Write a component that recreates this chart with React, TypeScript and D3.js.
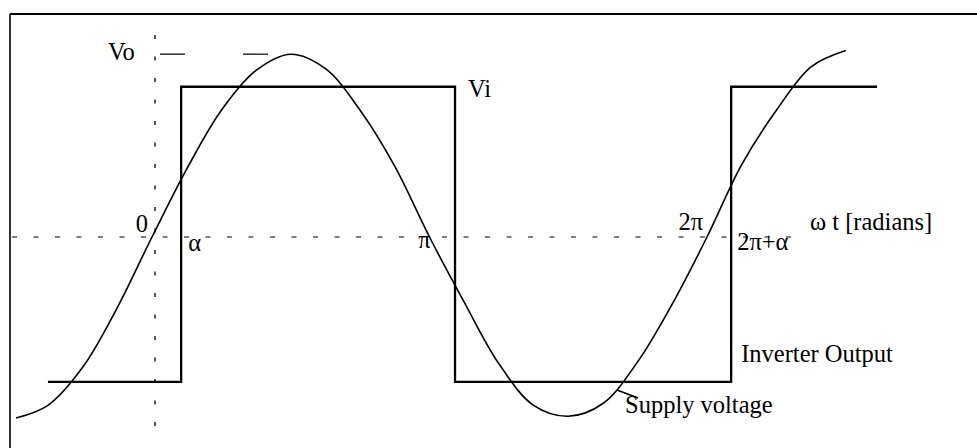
import React from "react";
import * as d3 from "d3";

// Supply voltage samples: phase in multiples of π, voltage in per-unit of peak
const supplyPhase = [
  -0.49, -0.375, -0.25, -0.125, 0, 0.125, 0.25, 0.375, 0.5, 0.625, 0.75, 0.875,
  1.0, 1.125, 1.25, 1.375, 1.5, 1.625, 1.75, 1.875, 2.0, 2.125, 2.25, 2.375, 2.5,
];
const supplyVolts = [
  -1.0, -0.93, -0.72, -0.39, 0, 0.375, 0.7, 0.92, 1.01, 0.93, 0.7, 0.39,
  0, -0.36, -0.7, -0.93, -0.99, -0.92, -0.69, -0.37, 0.0, 0.4, 0.7, 0.94, 1.03,
];

// Inverter output: switching instants (multiples of π) and the level held after each
const inverterEdges = [-0.375, 0.105, 1.092, 2.087, 2.613];
const inverterLevels = [-0.8, 0.83, -0.8, 0.83];

// Reference level and phase marks (multiples of π)
const peakLevel = 1.01;
const markPhases = [0, 0.105, 1, 2, 2.087];
const markLabels = ["0", "α", "π", "2π", "2π+α"];

const W = 977;
const H = 448;
const FONT = "'Liberation Serif', 'Times New Roman', serif";

export default function App() {
  const x = d3.scaleLinear().domain([0, 1]).range([152, 429.5]);
  const y = d3.scaleLinear().domain([-1, 1]).range([237 + 181, 237 - 181]);

  const supplyPts: [number, number][] = supplyPhase.map((t, i) => [t, supplyVolts[i]]);
  const supplyLine = d3
    .line<[number, number]>()
    .x((d) => x(d[0]))
    .y((d) => y(d[1]))
    .curve(d3.curveCatmullRom.alpha(0.5));

  const invPts: [number, number][] = inverterLevels.map((v, i) => [inverterEdges[i], v]);
  invPts.push([inverterEdges[inverterEdges.length - 1], inverterLevels[inverterLevels.length - 1]]);
  const invLine = d3
    .line<[number, number]>()
    .x((d) => x(d[0]))
    .y((d) => y(d[1]))
    .curve(d3.curveStepAfter);

  const y0 = y(0);
  const x0 = x(0);
  const yPeak = y(peakLevel);
  const lowY = y(inverterLevels[2]);
  const highY = y(inverterLevels[1]);

  // label placement around each phase mark: [dx, dy, anchor]
  const markPlacement: [number, number, "start" | "end"][] = [
    [-4, -5, "end"],
    [7, 14, "start"],
    [1, 11, "end"],
    [-4, -7, "end"],
    [6, 13, "start"],
  ];

  const textStyle = { fontFamily: FONT, fontSize: 24.5, fill: "#000" } as const;

  return (
    <svg
      width={W}
      height={H}
      viewBox={`0 0 ${W} ${H}`}
      style={{ position: "absolute", left: 0, top: 0, display: "block", background: "#fff" }}
    >
      <rect x={0} y={0} width={W} height={H} fill="#fff" />
      {/* frame */}
      <line x1={10} y1={14} x2={W} y2={14} stroke="#000" strokeWidth={2} />
      <line x1={10} y1={14} x2={10} y2={H} stroke="#000" strokeWidth={1.6} />

      {/* phase axis */}
      <line
        x1={12}
        y1={y0}
        x2={806}
        y2={y0}
        stroke="#000"
        strokeWidth={1.2}
        strokeDasharray="5,16.5"
      />
      {/* vertical reference */}
      <line
        x1={x0 + 3}
        y1={35}
        x2={x0 + 3}
        y2={432}
        stroke="#000"
        strokeWidth={1.3}
        strokeDasharray="4,17.5"
      />
      {/* peak marker */}
      <line
        x1={x0 + 8}
        y1={yPeak}
        x2={x0 + 118}
        y2={yPeak}
        stroke="#000"
        strokeWidth={1.2}
        strokeDasharray="25,58"
      />

      {/* inverter output */}
      <path d={invLine(invPts) ?? ""} fill="none" stroke="#000" strokeWidth={2.3} />
      {/* supply voltage */}
      <path d={supplyLine(supplyPts) ?? ""} fill="none" stroke="#000" strokeWidth={1.6} />

      {/* leader for supply label */}
      <line x1={617} y1={390} x2={638} y2={398} stroke="#000" strokeWidth={1.5} />

      {/* labels */}
      <text x={108} y={yPeak + 6} style={textStyle}>Vo</text>
      <text x={x(inverterEdges[2]) + 13} y={highY + 10} style={textStyle}>Vi</text>
      {markPhases.map((t, i) => (
        <text
          key={markLabels[i]}
          x={x(t) + markPlacement[i][0]}
          y={y0 + markPlacement[i][1]}
          textAnchor={markPlacement[i][2]}
          style={textStyle}
        >
          {markLabels[i]}
        </text>
      ))}
      <text x={810} y={y0 - 7} style={textStyle}>ω t [radians]</text>
      <text x={x(inverterEdges[3]) + 10} y={lowY - 20} style={textStyle}>Inverter Output</text>
      <text x={625} y={413} style={textStyle}>Supply voltage</text>
    </svg>
  );
}
